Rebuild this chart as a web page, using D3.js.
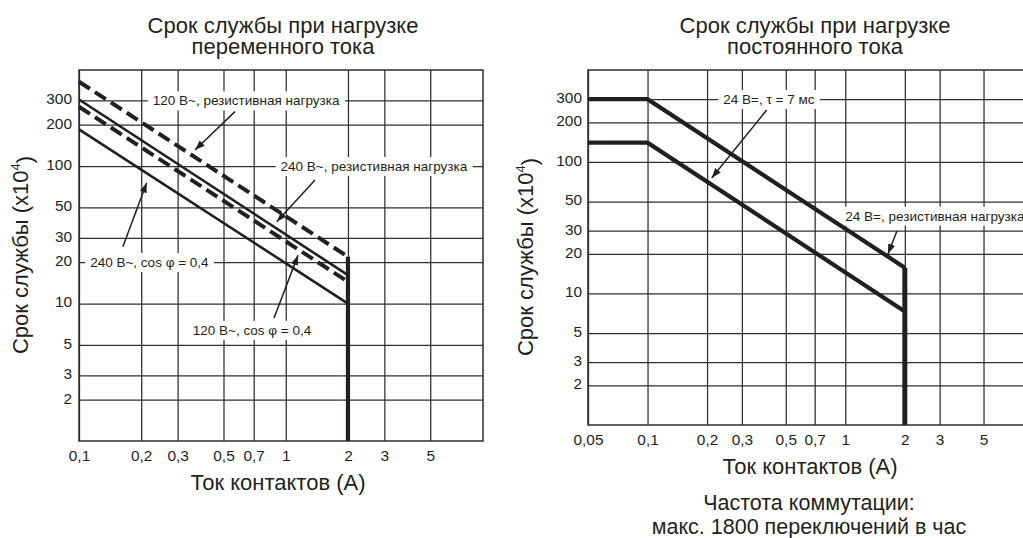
<!DOCTYPE html>
<html>
<head>
<meta charset="utf-8">
<script src="https://cdn.jsdelivr.net/npm/d3@7"></script>
<style>
  body { margin: 0; background: #fff; }
  svg { display: block; font-family: "Liberation Sans", Arial, Helvetica, sans-serif; }
</style>
</head>
<body>
<svg id="chart" width="1023" height="538"></svg>
<script>
// Electrical life (x10^4 operations) versus contact current (A)

// AC load: end points of each straight life line
const acCurrent = [0.1, 2];
const ac120Resistive = [411, 21.9];
const ac240Resistive = [305, 16.1];
const ac120Cos04 = [270, 14.4];
const ac240Cos04 = [185, 10];

// DC load: flat section up to 0.1 A, then falling to 2 A
const dcCurrent = [0.05, 0.1, 2];
const dc24Tau7 = [140, 140, 7.3];
const dc24Resistive = [300, 300, 15.7];

// maximum switching current
const cutoffCurrent = 2;
const lifeFloor = 1;

// axis ticks
const lifeTicks = [2, 3, 5, 10, 20, 30, 50, 100, 200, 300];
const acCurrentTicks = [0.1, 0.2, 0.3, 0.5, 0.7, 1, 2, 3, 5];
const acCurrentTickLabels = ["0,1", "0,2", "0,3", "0,5", "0,7", "1", "2", "3", "5"];
const dcCurrentTicks = [0.05, 0.1, 0.2, 0.3, 0.5, 0.7, 1, 2, 3, 5];
const dcCurrentTickLabels = ["0,05", "0,1", "0,2", "0,3", "0,5", "0,7", "1", "2", "3", "5"];

// callouts: label anchor and arrow, in data units
const acNotes = [
  { text: "120 В~, резистивная нагрузка", at: [0.643, 300], from: [0.568, 249], to: [0.364, 131] },
  { text: "240 В~, резистивная нагрузка", at: [2.67, 100], from: [1.386, 79.2], to: [0.905, 39.4] },
  { text: "240 В~, cos φ = 0,4", at: [0.219, 20], from: [0.163, 25.9], to: [0.2126, 75.7] },
  { text: "120 В~, cos φ = 0,4", at: [0.687, 6.42], from: [0.878, 7.85], to: [1.147, 22.5] }
];
const dcNotes = [
  { text: "24 В=, τ = 7 мс", at: [0.411, 300], from: [0.4003, 248], to: [0.2111, 75.5] },
  { text: "24 В=, резистивная нагрузка", at: [2.84, 39], from: [1.824, 29.9], to: [1.643, 19.95] }
];

const INK = "#231f20";
const GRID = "#2e2e2e";

const svg = d3.select("#chart");

svg.append("defs").append("marker")
  .attr("id", "arrowhead")
  .attr("viewBox", "0 -4 10 8")
  .attr("refX", 10).attr("refY", 0)
  .attr("markerWidth", 10).attr("markerHeight", 8)
  .attr("markerUnits", "userSpaceOnUse")
  .attr("orient", "auto")
  .append("path").attr("d", "M0,-3.6L10,0L0,3.6Z").attr("fill", INK);

function zip(xs, ys) { return xs.map((v, i) => [v, ys[i]]); }

function panel(cfg) {
  const g = svg.append("g");
  const x = d3.scaleLog().domain(cfg.xDomain).range(cfg.xRange);
  const y = d3.scaleLog().domain([lifeFloor, 500]).range(cfg.yRange);
  const [x0, x1] = cfg.xRange;
  const [yb, yt] = cfg.yRange;

  // horizontal grid with tick labels
  const yAxis = g.append("g").attr("transform", `translate(${x0},0)`)
    .call(d3.axisLeft(y).tickValues(lifeTicks).tickFormat(d3.format("d"))
      .tickSize(-(x1 - x0)).tickPadding(cfg.yPad));
  // vertical grid with tick labels
  const xAxis = g.append("g").attr("transform", `translate(0,${yb})`)
    .call(d3.axisBottom(x).tickValues(cfg.ticks).tickFormat((d, i) => cfg.tickLabels[i])
      .tickSize(-(yb - yt)).tickPadding(cfg.xPad));
  [yAxis, xAxis].forEach(a => {
    a.select(".domain").remove();
    a.selectAll(".tick line").attr("stroke", GRID).attr("stroke-width", 1.25);
    a.selectAll(".tick text").attr("fill", INK).style("font-size", "15.4px")
      .style("font-family", "\"Liberation Sans\", Arial, sans-serif");
  });
  yAxis.selectAll(".tick text").attr("dy", "0.22em");

  // frame
  g.append("rect").attr("x", x0).attr("y", yt).attr("width", x1 - x0).attr("height", yb - yt)
    .attr("fill", "none").attr("stroke", GRID).attr("stroke-width", 1.5);

  // callout label backgrounds and texts
  const boxes = g.append("g");
  const labels = g.append("g");
  cfg.notes.forEach(n => {
    const t = labels.append("text")
      .attr("x", x(n.at[0])).attr("y", y(n.at[1])).attr("dy", "0.36em")
      .attr("text-anchor", "middle").attr("fill", INK).style("font-size", "13.5px")
      .text(n.text);
    const b = t.node().getBBox();
    boxes.append("rect").attr("x", b.x - 5).attr("y", b.y - 2)
      .attr("width", b.width + 10).attr("height", b.height + 4).attr("fill", "#fff");
  });

  // life lines
  const line = d3.line().x(d => x(d[0])).y(d => y(d[1]));
  const curves = g.append("g").attr("fill", "none").attr("stroke", INK);
  cfg.series.forEach(s => {
    curves.append("path").attr("d", line(zip(cfg.current, s.values)))
      .attr("stroke-width", s.width).attr("stroke-dasharray", s.dash || null)
      .attr("stroke-linejoin", "miter");
  });
  const topEnd = d3.max(cfg.series, s => s.values[s.values.length - 1]);
  curves.append("path").attr("d", line([[cutoffCurrent, topEnd], [cutoffCurrent, lifeFloor]]))
    .attr("stroke-width", cfg.cutoffWidth);

  // callout arrows
  cfg.notes.forEach(n => {
    g.append("line")
      .attr("x1", x(n.from[0])).attr("y1", y(n.from[1]))
      .attr("x2", x(n.to[0])).attr("y2", y(n.to[1]))
      .attr("stroke", INK).attr("stroke-width", 1.5)
      .attr("marker-end", "url(#arrowhead)");
  });

  // titles and axis names
  const cx = cfg.center;
  const big = sel => sel.attr("fill", INK).attr("text-anchor", "middle").style("font-size", "22px");
  cfg.title.forEach((t, i) => {
    g.append("text").call(big).attr("x", cx).attr("y", 32.5 + i * 21).text(t);
  });
  g.append("text").call(big).attr("x", cx - 5).attr("y", cfg.xLabelY).text("Ток контактов (А)");
  const yl = g.append("text").call(big)
    .attr("transform", `translate(${cfg.yLabelX},${cfg.yLabelY}) rotate(-90)`);
  yl.append("tspan").text("Срок службы (x10");
  yl.append("tspan").attr("dy", "-0.55em").style("font-size", "13px").text("4");
  yl.append("tspan").attr("dy", "0.55em").text(")");
  return { g, cx };
}

panel({
  xDomain: [0.1, 9], xRange: [79, 483], yRange: [441, 70],
  ticks: acCurrentTicks, tickLabels: acCurrentTickLabels, xPad: 9.5, yPad: 7,
  current: acCurrent,
  series: [
    { values: ac120Resistive, width: 4, dash: "13,6" },
    { values: ac240Resistive, width: 2.6 },
    { values: ac120Cos04, width: 4, dash: "13,6" },
    { values: ac240Cos04, width: 2.6 }
  ],
  cutoffWidth: 4.2,
  notes: acNotes,
  center: 283, title: ["Срок службы при нагрузке", "переменного тока"],
  xLabelY: 490, yLabelX: 27.5, yLabelY: 255
});

const dc = panel({
  xDomain: [0.05, 9], xRange: [588, 1034], yRange: [425, 70],
  ticks: dcCurrentTicks, tickLabels: dcCurrentTickLabels, xPad: 9.5, yPad: 6,
  current: dcCurrent,
  series: [
    { values: dc24Resistive, width: 4.2 },
    { values: dc24Tau7, width: 4.2 }
  ],
  cutoffWidth: 5,
  notes: dcNotes,
  center: 815, title: ["Срок службы при нагрузке", "постоянного тока"],
  xLabelY: 474, yLabelX: 532.5, yLabelY: 257
});

// switching frequency note under the DC panel
[["Частота коммутации:", 510], ["макс. 1800 переключений в час", 534]].forEach(([t, yy]) => {
  dc.g.append("text").attr("x", 809).attr("y", yy).attr("text-anchor", "middle")
    .attr("fill", INK).style("font-size", "21.5px").text(t);
});
</script>
</body>
</html>
